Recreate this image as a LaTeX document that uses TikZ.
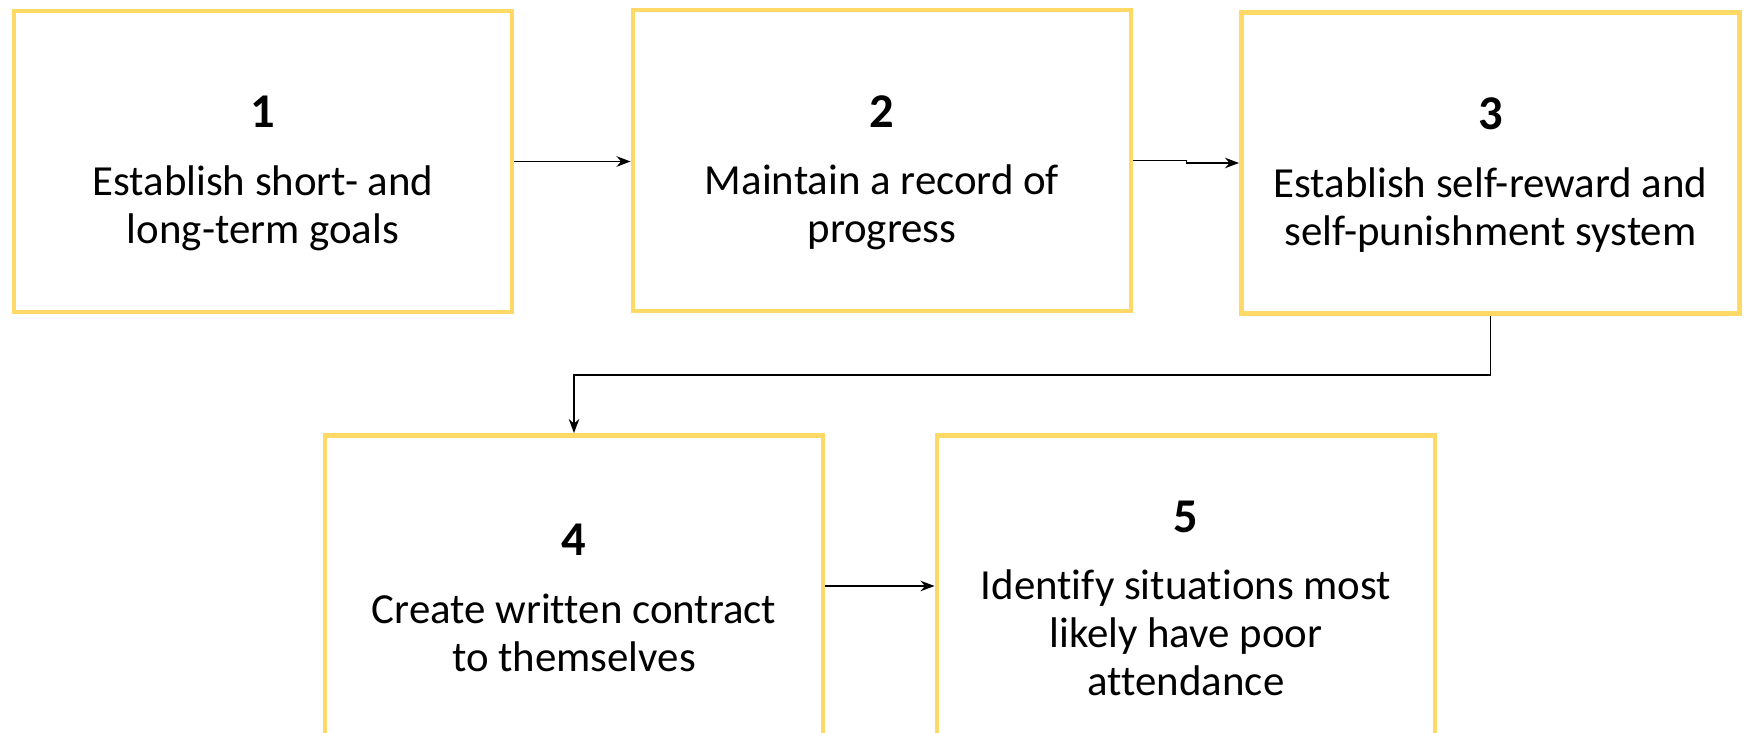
\documentclass[tikz,border=0pt]{standalone}
\usepackage{fontspec}
\setmainfont{Carlito}[Ligatures=NoCommon]
\usetikzlibrary{arrows.meta,positioning}
\definecolor{stepyellow}{HTML}{FFD966}
\tikzset{
  stepbox/.style={draw=stepyellow, line width=1.4pt, fill=white,
    minimum width=4.98cm, minimum height=3.01cm, inner sep=0pt},
  steptext/.style={align=center, font=\fontsize{12.2}{13.6}\selectfont},
  flow/.style={-{Stealth[length=4pt,width=3pt]}, line width=0.45pt},
}
\newcommand{\stepnum}[1]{{\fontsize{13.8}{14}\selectfont\bfseries #1}\\[5.6pt]}

\begin{document}
\begin{tikzpicture}[scale=1.0]
    \useasboundingbox (0, 0) rectangle (17.48, 7.33);

    \node[stepbox] (s1) at (2.63, 5.715) {};
    \node[stepbox] (s2) at (8.82, 5.725) {};
    \node[stepbox] (s3) at (14.905, 5.70) {};
    \node[stepbox] (s4) at (5.74, 1.47) {};
    \node[stepbox] (s5) at (11.86, 1.47) {};

    \node[steptext] (t1) at ([yshift=-0.12cm]s1.center) {\stepnum{1}Establish short- and\\long-term goals};
    \node[steptext] (t2) at ([yshift=-0.12cm]s2.center) {\stepnum{2}Maintain a record of\\progress};
    \node[steptext] (t3) at ([yshift=-0.12cm]s3.center) {\stepnum{3}Establish self-reward and\\self-punishment system};
    \node[steptext] (t4) at ([yshift=-0.12cm]s4.center) {\stepnum{4}Create written contract\\to themselves};
    \node[steptext] (t5) at ([yshift=-0.12cm]s5.center) {\stepnum{5}Identify situations most\\likely have poor\\attendance};

    \draw[flow] (s1.east) -- (s1.east -| s2.west);
    \draw[flow] (s2.east) -- ++(0.53, 0) |- (s3.west);
    \draw[flow] (s3.south) -- ++(0, -0.59) -| (s4.north);
    \draw[flow] (s4.east) -- (s5.west);
\end{tikzpicture}
\end{document}
